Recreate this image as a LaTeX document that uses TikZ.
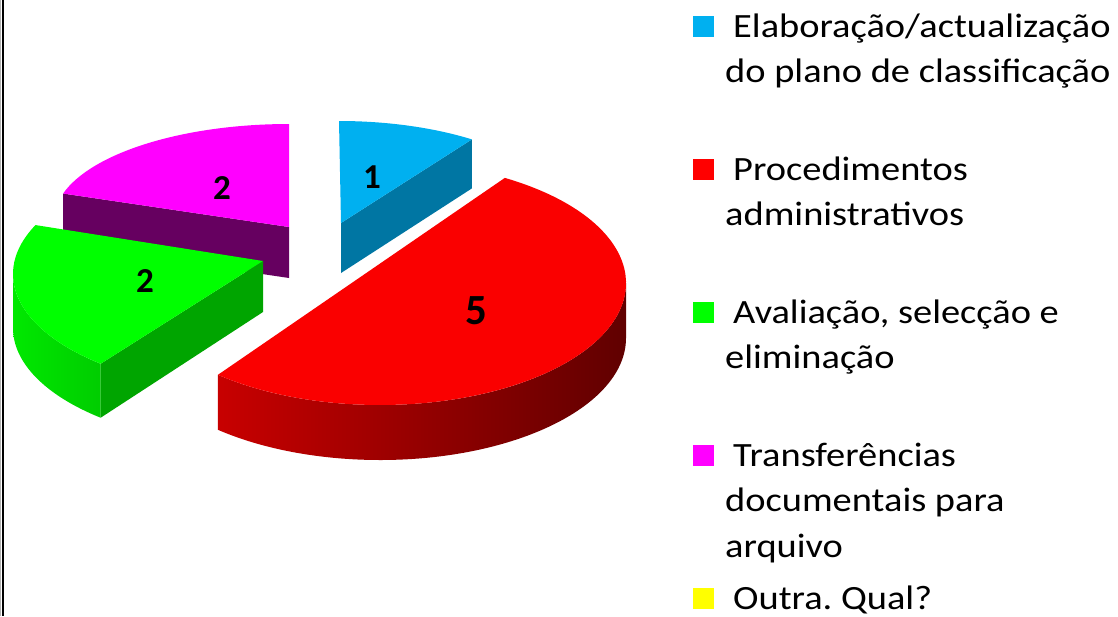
\documentclass[tikz,border=0pt]{standalone}
\usepackage{fontspec}
\setmainfont{Carlito}
\newfontfamily\legendfont[FakeStretch=1.13]{Carlito}
\usetikzlibrary{calc}
\frenchspacing
\definecolor{blueTop}{RGB}{0,176,240}
\definecolor{blueSide}{RGB}{0,118,163}
\definecolor{redTop}{RGB}{250,0,0}
\definecolor{redSideA}{RGB}{200,0,0}
\definecolor{redSideB}{RGB}{96,0,0}
\definecolor{greenTop}{RGB}{0,255,0}
\definecolor{greenRad}{RGB}{0,165,0}
\definecolor{greenSideA}{RGB}{0,232,0}
\definecolor{greenSideB}{RGB}{0,205,0}
\definecolor{magTop}{RGB}{255,0,255}
\definecolor{magSide}{RGB}{102,0,96}
\definecolor{legRed}{RGB}{255,0,0}
\definecolor{legYellow}{RGB}{255,255,0}
\tikzset{
  legsq/.style={minimum size=21pt, inner sep=0pt, outer sep=0pt, anchor=north west, draw=none},
  legtxt/.style={anchor=base west, inner sep=0pt, font=\legendfont\fontsize{34}{40}\selectfont},
  smalllab/.style={inner sep=0pt, font=\bfseries\fontsize{35}{40}\selectfont},
  biglab/.style={inner sep=0pt, font=\bfseries\fontsize{43}{48}\selectfont},
}
\begin{document}
\frenchspacing
\begin{tikzpicture}[x=1pt,y=1pt]
\useasboundingbox (0,0) rectangle (1118,-616);
\clip (0,0) rectangle (1118,-616);
\fill[white] (0,0) rectangle (1118,-616);
% left border
\draw[gray!60, line width=1pt] (0.5,0) -- (0.5,-616);
\draw[black, line width=2pt] (3,0) -- (3,-616);

% ---------- magenta slice (back left)
\coordinate (Cm) at (289,-220);
\coordinate (Vm) at (289,-227);
\coordinate (Pm1) at ($(Cm)+(90:235pt and 96pt)$);
\coordinate (Pm2) at ($(Cm)+(164:235pt and 96pt)$);
\fill[magSide] (Pm2) -- (Vm) -- ($(Vm)+(0,-51)$) -- ($(Pm2)+(0,-51)$) -- cycle;
\fill[magTop] (Vm) -- (Pm1) arc[start angle=90, end angle=164, x radius=235pt, y radius=96pt] -- cycle;

% ---------- blue slice (back right)
\coordinate (Cb) at (339,-221);
\coordinate (Vb) at (341,-223);
\coordinate (Pb1) at ($(Cb)+(90:230pt and 100pt)$);
\coordinate (Pb2) at ($(Cb)+(54.7:230pt and 100pt)$);
\fill[blueSide] (Vb) -- (Pb2) -- ($(Pb2)+(0,-49)$) -- ($(Vb)+(0,-50)$) -- cycle;
\fill[blueTop] (Vb) -- (Pb1) arc[start angle=90, end angle=54.7, x radius=230pt, y radius=100pt] -- cycle;

% ---------- green slice (front left)
\coordinate (Cg) at (263,-274);
\coordinate (Vg) at (263,-261);
\coordinate (Pg0) at ($(Cg)+(180:250pt and 118pt)$);
\coordinate (Pg1) at ($(Cg)+(155.5:250pt and 118pt)$);
\coordinate (Pg2) at ($(Cg)+(229.5:250pt and 118pt)$);
\shade[left color=greenSideA, right color=greenSideB]
  (Pg0) arc[start angle=180, end angle=229.5, x radius=250pt, y radius=118pt]
  -- ++(0,-54) arc[start angle=229.5, end angle=180, x radius=250pt, y radius=118pt] -- cycle;
\fill[greenRad] (Vg) -- (Pg2) -- ($(Pg2)+(0,-54)$) -- ($(Vg)+(0,-51)$) -- cycle;
\fill[greenTop] (Vg) -- (Pg1) arc[start angle=155.5, end angle=229.5, x radius=250pt, y radius=118pt] -- cycle;

% ---------- red slice (front right)
\coordinate (Cr) at (380,-283);
\coordinate (Pr0) at ($(Cr)+(0:246pt and 122pt)$);
\coordinate (Pr1) at ($(Cr)+(59.5:246pt and 122pt)$);
\coordinate (Pr2) at ($(Cr)+(-131.2:246pt and 122pt)$);
\shade[left color=redSideA, right color=redSideB]
  (Pr2) arc[start angle=-131.2, end angle=0, x radius=246pt, y radius=122pt]
  -- ++(0,-55) arc[start angle=0, end angle=-131.2, x radius=246pt, y radius=122pt] -- cycle;
\fill[redTop] (Pr2) -- (Pr1) arc[start angle=59.5, end angle=-131.2, x radius=246pt, y radius=122pt] -- cycle;

% ---------- data labels
\node[smalllab] (l1) at (372,-177) {1};
\node[smalllab] (l2m) at (222,-188) {2};
\node[smalllab] (l2g) at (145,-281) {2};
\node[biglab] (l5) at (476,-311) {5};

% ---------- legend
\node[legsq, fill=blueTop] (s1) at (693,-16) {};
\node[legtxt] (t1a) at (733,-37) {Elaboração/actualização};
\node[legtxt] (t1b) at (725,-82) {do plano de classificação};

\node[legsq, fill=legRed] (s2) at (693,-159) {};
\node[legtxt] (t2a) at (733,-180) {Procedimentos};
\node[legtxt] (t2b) at (725,-225) {administrativos};

\node[legsq, fill=greenTop] (s3) at (693,-302) {};
\node[legtxt] (t3a) at (733,-323) {Avaliação, selecção e};
\node[legtxt] (t3b) at (725,-368) {eliminação};

\node[legsq, fill=magTop] (s4) at (693,-445) {};
\node[legtxt] (t4a) at (733,-466) {Transferências};
\node[legtxt] (t4b) at (725,-511) {documentais para};
\node[legtxt] (t4c) at (725,-557) {arquivo};

\node[legsq, fill=legYellow] (s5) at (693,-588) {};
\node[legtxt] (t5a) at (733,-609) {Outra.\ Qual?};
\end{tikzpicture}
\end{document}
